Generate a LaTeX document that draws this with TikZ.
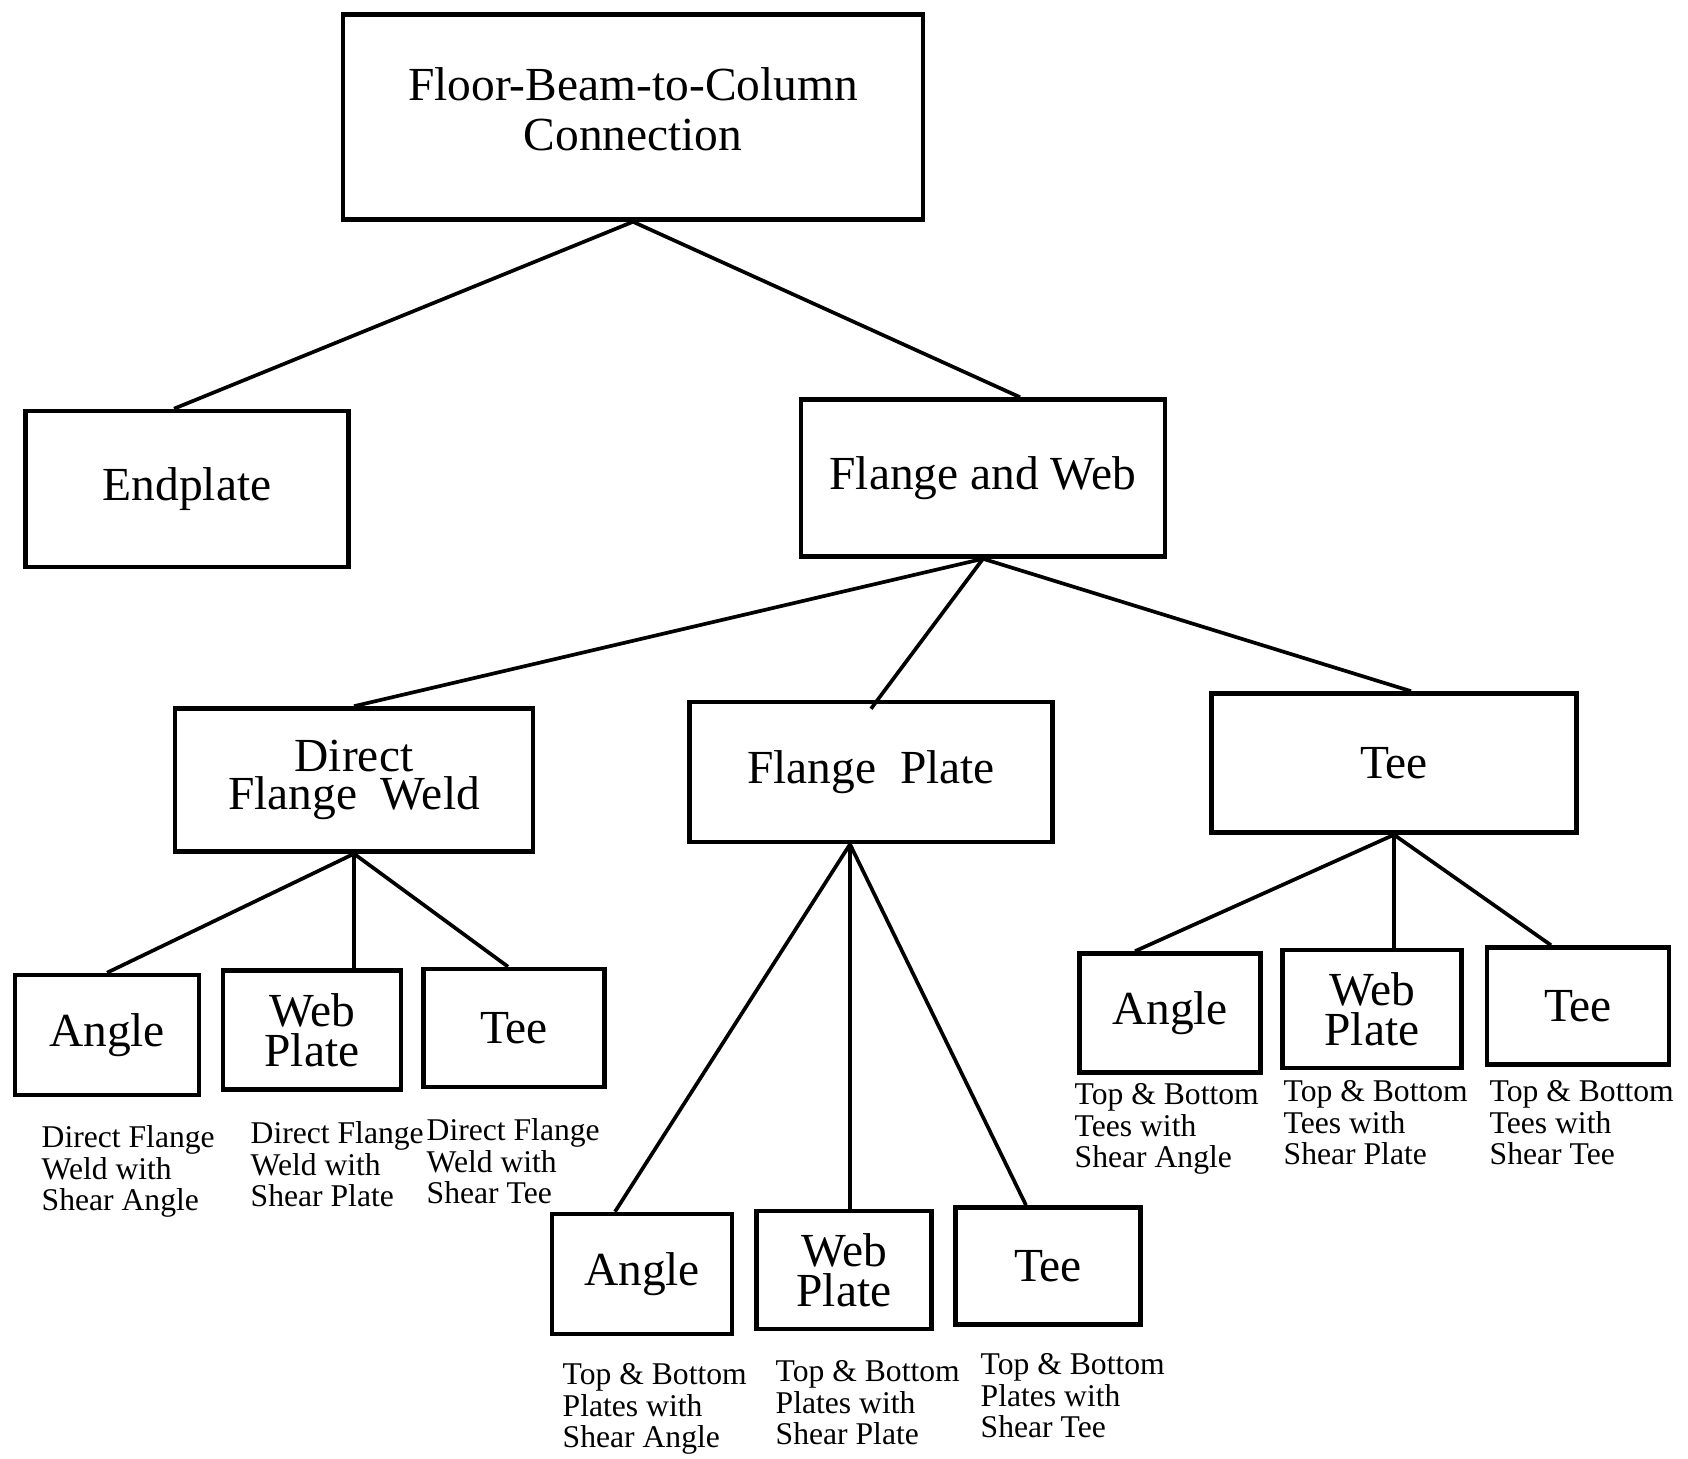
\documentclass[tikz,border=0pt]{standalone}
\usepackage{fontspec}
\setmainfont{Liberation Serif}

\begin{document}
\begin{tikzpicture}[
    box/.style={draw, line width=1.3pt, inner sep=0pt, align=center,
                font=\fontsize{13.5}{11}\selectfont},
    leaf/.style={box, font=\fontsize{13.5}{11.5}\selectfont},
    note/.style={anchor=north west, inner sep=0pt, align=left,
                 font=\fontsize{9}{9}\selectfont},
    link/.style={line width=1.05pt}]
\useasboundingbox (0,0) rectangle (16.88,-14.59);

            % Top
            \node[box, minimum width=5.80cm, minimum height=2.05cm, text depth=0.16cm, font=\fontsize{13.5}{14}\selectfont] (root) at (6.33,-1.17) {Floor-Beam-to-Column\\Connection};

            % Second level
            \node[box, minimum width=3.23cm, minimum height=1.56cm] (endplate) at (1.87,-4.89) {Endplate};
            \node[box, minimum width=3.64cm, minimum height=1.57cm] (fw) at (9.83,-4.78) {Flange and Web};

            % Third level
            \node[box, minimum width=3.58cm, minimum height=1.43cm] (dfw) at (3.54,-7.80) {Direct\\Flange\ \ Weld};
            \node[box, minimum width=3.63cm, minimum height=1.40cm] (fp) at (8.71,-7.72) {Flange\ \ Plate};
            \node[box, minimum width=3.65cm, minimum height=1.39cm] (tee) at (13.94,-7.63) {Tee};

            % Under Direct Flange Weld
            \node[leaf, minimum width=1.84cm, minimum height=1.20cm] (dfwangle) at (1.07,-10.35) {Angle};
            \node[leaf, minimum width=1.78cm, minimum height=1.19cm] (dfwweb) at (3.12,-10.30) {Web\\Plate};
            \node[leaf, minimum width=1.81cm, minimum height=1.18cm] (dfwtee) at (5.14,-10.28) {Tee};

            % Under Flange Plate
            \node[leaf, minimum width=1.80cm, minimum height=1.20cm] (fpangle) at (6.42,-12.74) {Angle};
            \node[leaf, minimum width=1.75cm, minimum height=1.18cm] (fpweb) at (8.44,-12.70) {Web\\Plate};
            \node[leaf, minimum width=1.85cm, minimum height=1.17cm] (fptee) at (10.48,-12.66) {Tee};

            % Under Tee
            \node[leaf, minimum width=1.81cm, minimum height=1.19cm] (teeangle) at (11.70,-10.13) {Angle};
            \node[leaf, minimum width=1.79cm, minimum height=1.18cm] (teeweb) at (13.72,-10.09) {Web\\Plate};
            \node[leaf, minimum width=1.82cm, minimum height=1.17cm] (teetee) at (15.78,-10.06) {Tee};

            % Notes
            \node[note] (dfwanglenote) at (0.41,-11.25) {Direct Flange\\Weld with\\Shear Angle};
            \node[note] (dfwwebnote) at (2.50,-11.21) {Direct Flange\\Weld with\\Shear Plate};
            \node[note] (dfwteenote) at (4.26,-11.18) {Direct Flange\\Weld with\\Shear Tee};
            \node[note] (fpanglenote) at (5.62,-13.63) {Top \& Bottom\\Plates with\\Shear Angle};
            \node[note] (fpwebnote) at (7.75,-13.60) {Top \& Bottom\\Plates with\\Shear Plate};
            \node[note] (fpteenote) at (9.80,-13.53) {Top \& Bottom\\Plates with\\Shear Tee};
            \node[note] (teeanglenote) at (10.74,-10.83) {Top \& Bottom\\Tees with\\Shear Angle};
            \node[note] (teewebnote) at (12.83,-10.80) {Top \& Bottom\\Tees with\\Shear Plate};
            \node[note] (teeteenote) at (14.89,-10.80) {Top \& Bottom\\Tees with\\Shear Tee};

            % Links
            \draw[link] (root.south) -- ([xshift=-0.13cm]endplate.north);
            \draw[link] (root.south) -- ([xshift=0.37cm]fw.north);

            \draw[link] (fw.south) -- (dfw.north);
            \draw[link] (fw.south) -- ([yshift=-0.09cm]fp.north);
            \draw[link] (fw.south) -- ([xshift=0.17cm]tee.north);

            \draw[link] (dfw.south) -- (dfwangle.north);
            \draw[link] (dfw.south) -- (dfw.south |- dfwweb.north);
            \draw[link] (dfw.south) -- ([xshift=-0.06cm]dfwtee.north);

            \coordinate (fpfoot) at ([xshift=-0.21cm]fp.south);
            \draw[link] (fpfoot) -- ([xshift=-0.27cm]fpangle.north);
            \draw[link] (fpfoot) -- (fpfoot |- fpweb.north);
            \draw[link] (fpfoot) -- ([xshift=-0.22cm]fptee.north);

            \draw[link] (tee.south) -- ([xshift=-0.35cm]teeangle.north);
            \draw[link] (tee.south) -- (tee.south |- teeweb.north);
            \draw[link] (tee.south) -- ([xshift=-0.27cm]teetee.north);

\end{tikzpicture}
\end{document}
